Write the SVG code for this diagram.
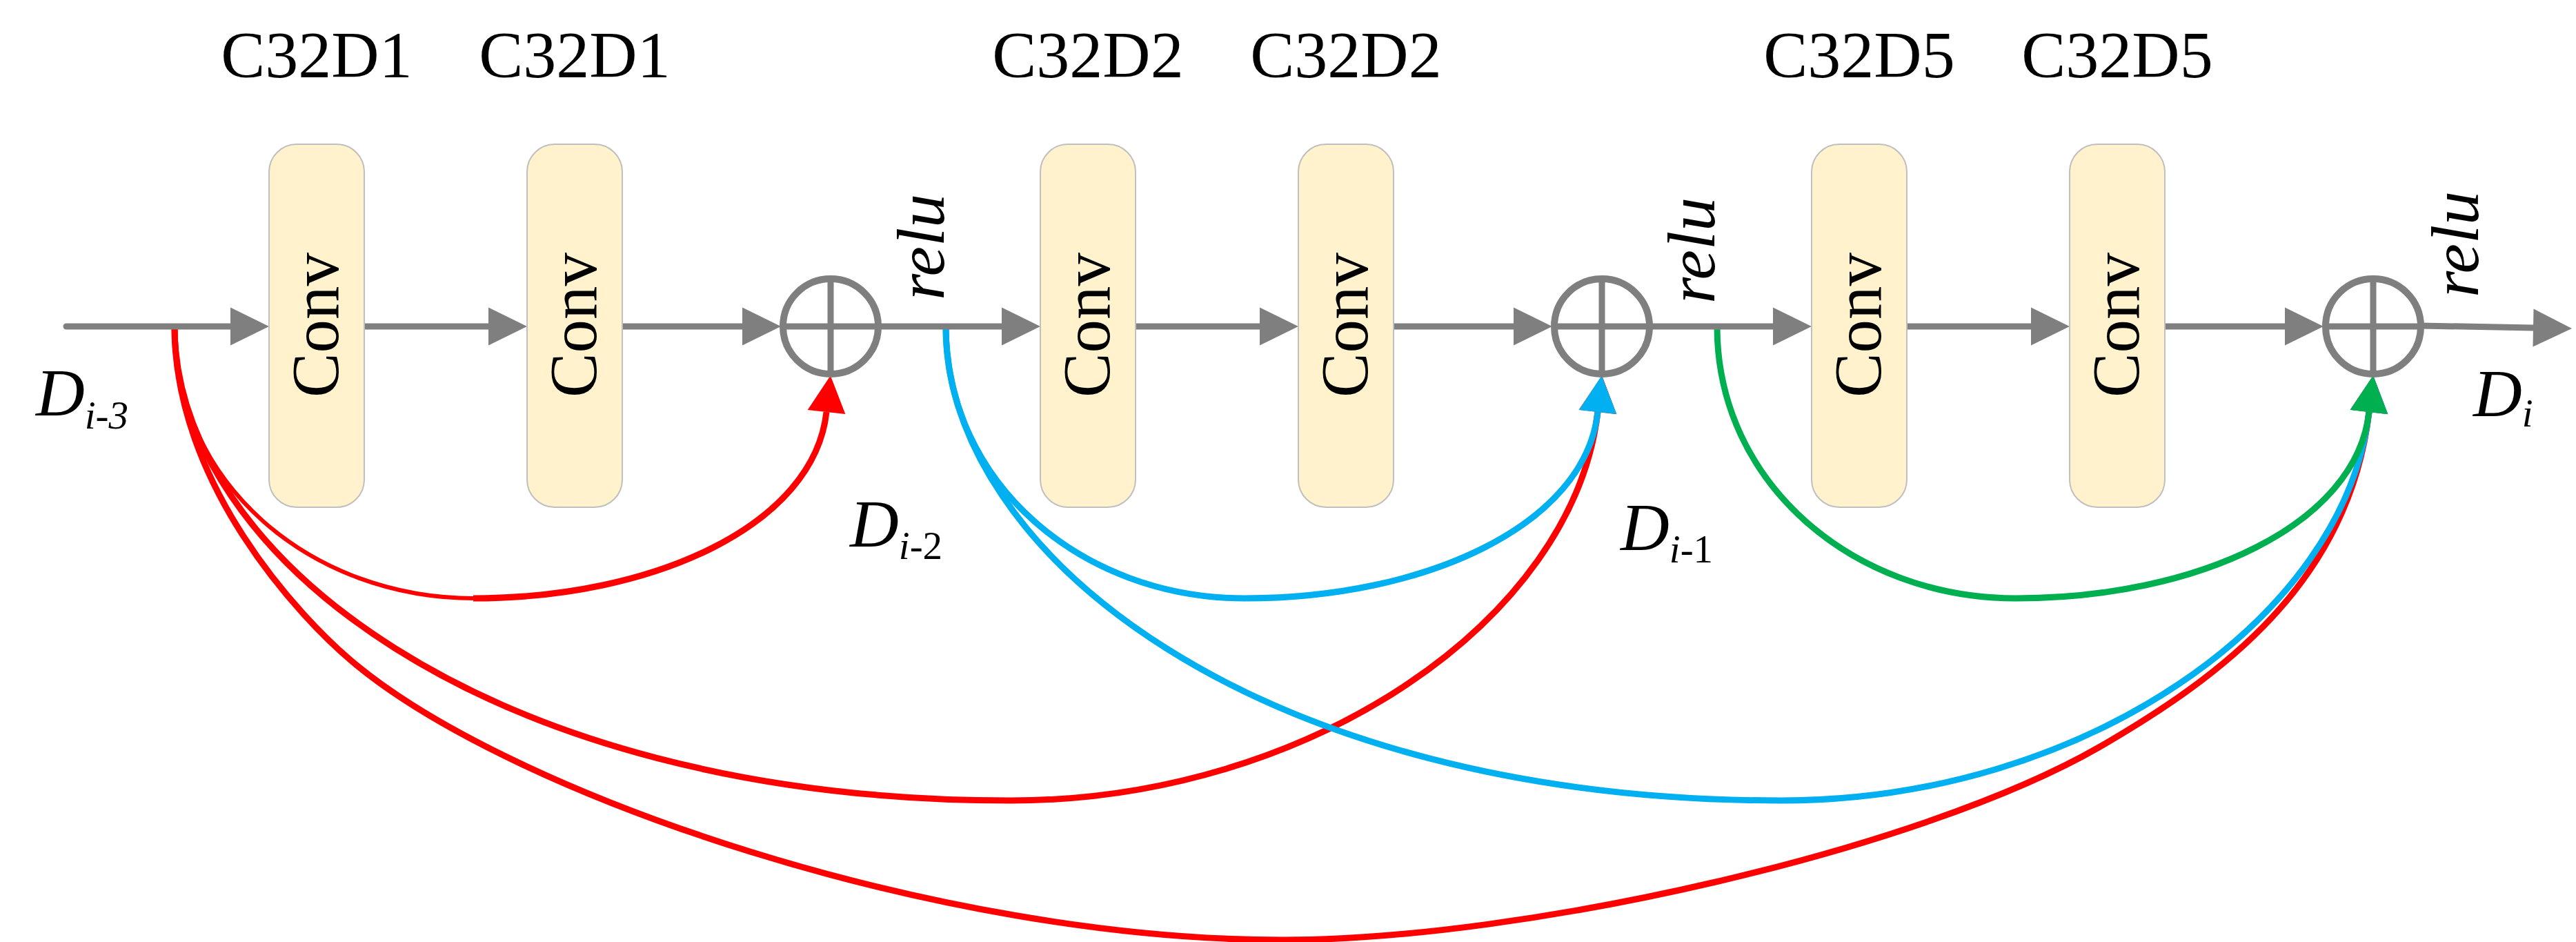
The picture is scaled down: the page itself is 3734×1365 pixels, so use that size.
<svg xmlns="http://www.w3.org/2000/svg" width="3734" height="1365" viewBox="0 0 3734 1365">
<style>
.bg{fill:#ffffff}
.box{fill:#FFF2CC;stroke:#BFBFBF;stroke-width:2}
.main{fill:none;stroke:#7F7F7F;stroke-width:9;stroke-linecap:round}
.sum{fill:none;stroke:#7F7F7F;stroke-width:10}
.cross{stroke:#7F7F7F;stroke-width:9}
.red{fill:none;stroke:#FF0000;stroke-width:9}
.redthin{fill:none;stroke:#FF0000;stroke-width:6}
.blue{fill:none;stroke:#00B0F0;stroke-width:9}
.green{fill:none;stroke:#00B050;stroke-width:9}
.lbl{font-family:"Liberation Serif","Times New Roman",serif;font-size:96px;fill:#000}
.conv{font-family:"Liberation Serif","Times New Roman",serif;font-size:97px;fill:#000}
.it{font-family:"Liberation Serif","Times New Roman",serif;font-style:italic;font-size:98px;fill:#000}
.sub{font-size:57px}
.up{font-style:normal}
</style>
<defs>
<marker id="ag" markerUnits="userSpaceOnUse" viewBox="0 -28 56 56" markerWidth="56" markerHeight="56" refX="0" refY="0" orient="auto" overflow="visible"><path d="M0,-27.5 L56,0 L0,27.5 Z" fill="#7F7F7F"/></marker>
<marker id="ar" markerUnits="userSpaceOnUse" viewBox="0 -28 53 56" markerWidth="53" markerHeight="56" refX="0" refY="0" orient="auto" overflow="visible"><path d="M0,-27.5 L53,0 L0,27.5 Z" fill="#FF0000"/></marker>
<marker id="ab" markerUnits="userSpaceOnUse" viewBox="0 -28 53 56" markerWidth="53" markerHeight="56" refX="0" refY="0" orient="auto" overflow="visible"><path d="M0,-27.5 L53,0 L0,27.5 Z" fill="#00B0F0"/></marker>
<marker id="agr" markerUnits="userSpaceOnUse" viewBox="0 -28 53 56" markerWidth="53" markerHeight="56" refX="0" refY="0" orient="auto" overflow="visible"><path d="M0,-27.5 L53,0 L0,27.5 Z" fill="#00B050"/></marker>
</defs>
<rect class="bg" x="0" y="0" width="3734" height="1365"/>
<g id="connectors">
<path class="red" d="M253,473 C253,700 432,894 517,964 C749,1154 1360,1362 1860,1362 C2210,1362 2784,1232 3044,1082 C3217,982 3405,845 3434,597" marker-end="url(#ar)"/>
<path class="red" d="M253,473 C253,800 700,1160 1465,1160 C1900,1160 2281,897 2316,597" marker-end="url(#ar)"/>
<path class="redthin" d="M253,473 C253,700 450,867 688,867"/>
<path class="red" d="M686,867 C950,867 1180,760 1198,597" marker-end="url(#ar)"/>
<path class="blue" d="M1371,473 C1371,800 1818,1160 2583,1160 C3018,1160 3399,897 3434,597" marker-end="url(#ab)"/>
<path class="blue" d="M1371,473 C1371,700 1568,867 1804,867 C2068,867 2298,760 2316,597" marker-end="url(#ab)"/>
<path class="green" d="M2489,473 C2489,700 2686,867 2922,867 C3186,867 3416,760 3434,597" marker-end="url(#agr)"/>
<line class="main" x1="96" y1="473" x2="334" y2="473" marker-end="url(#ag)"/>
<line class="main" x1="528" y1="473" x2="708" y2="473" marker-end="url(#ag)"/>
<line class="main" x1="902" y1="473" x2="1076" y2="473" marker-end="url(#ag)"/>
<line class="main" x1="1273" y1="473" x2="1452" y2="473" marker-end="url(#ag)"/>
<line class="main" x1="1646" y1="473" x2="1826" y2="473" marker-end="url(#ag)"/>
<line class="main" x1="2020" y1="473" x2="2194" y2="473" marker-end="url(#ag)"/>
<line class="main" x1="2391" y1="473" x2="2570" y2="473" marker-end="url(#ag)"/>
<line class="main" x1="2764" y1="473" x2="2944" y2="473" marker-end="url(#ag)"/>
<line class="main" x1="3138" y1="473" x2="3312" y2="473" marker-end="url(#ag)"/>
<line class="main" x1="3509" y1="472" x2="3672" y2="475" marker-end="url(#ag)"/>
</g>
<g id="conv1"><rect class="box" x="390" y="209" width="138" height="526" rx="40" ry="40"/><text class="conv" text-anchor="middle" transform="translate(490,471) rotate(-90)">Conv</text></g>
<g id="conv2"><rect class="box" x="764" y="209" width="138" height="526" rx="40" ry="40"/><text class="conv" text-anchor="middle" transform="translate(864,471) rotate(-90)">Conv</text></g>
<g id="conv3"><rect class="box" x="1508" y="209" width="138" height="526" rx="40" ry="40"/><text class="conv" text-anchor="middle" transform="translate(1608,471) rotate(-90)">Conv</text></g>
<g id="conv4"><rect class="box" x="1882" y="209" width="138" height="526" rx="40" ry="40"/><text class="conv" text-anchor="middle" transform="translate(1982,471) rotate(-90)">Conv</text></g>
<g id="conv5"><rect class="box" x="2626" y="209" width="138" height="526" rx="40" ry="40"/><text class="conv" text-anchor="middle" transform="translate(2726,471) rotate(-90)">Conv</text></g>
<g id="conv6"><rect class="box" x="3000" y="209" width="138" height="526" rx="40" ry="40"/><text class="conv" text-anchor="middle" transform="translate(3100,471) rotate(-90)">Conv</text></g>
<g id="sum1"><circle class="sum" cx="1204" cy="473" r="69"/><line class="cross" x1="1135" y1="473" x2="1273" y2="473"/><line class="cross" x1="1204" y1="404" x2="1204" y2="542"/></g>
<g id="sum2"><circle class="sum" cx="2322" cy="473" r="69"/><line class="cross" x1="2253" y1="473" x2="2391" y2="473"/><line class="cross" x1="2322" y1="404" x2="2322" y2="542"/></g>
<g id="sum3"><circle class="sum" cx="3440" cy="473" r="69"/><line class="cross" x1="3371" y1="473" x2="3509" y2="473"/><line class="cross" x1="3440" y1="404" x2="3440" y2="542"/></g>
<g id="labels">
<text class="lbl" x="459" y="112" text-anchor="middle">C32D1</text>
<text class="lbl" x="833" y="112" text-anchor="middle">C32D1</text>
<text class="lbl" x="1577" y="112" text-anchor="middle">C32D2</text>
<text class="lbl" x="1951" y="112" text-anchor="middle">C32D2</text>
<text class="lbl" x="2695" y="112" text-anchor="middle">C32D5</text>
<text class="lbl" x="3069" y="112" text-anchor="middle">C32D5</text>
<text class="it" text-anchor="middle" transform="translate(1368,358) rotate(-90)">relu</text>
<text class="it" text-anchor="middle" transform="translate(2485,363) rotate(-90)">relu</text>
<text class="it" text-anchor="middle" transform="translate(3592,354) rotate(-90)">relu</text>
<text class="it" x="52" y="602">D<tspan class="sub" dy="19">i-3</tspan></text>
<text class="it" x="1232" y="792">D<tspan class="sub" dy="18">i</tspan><tspan class="sub up">-2</tspan></text>
<text class="it" x="2349" y="797">D<tspan class="sub" dy="18">i</tspan><tspan class="sub up">-1</tspan></text>
<text class="it" x="3585" y="603">D<tspan class="sub" dy="15">i</tspan></text>
</g>
</svg>
